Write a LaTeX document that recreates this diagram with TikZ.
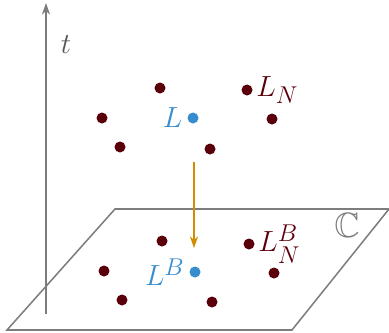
\documentclass[tikz,border=0pt]{standalone}
\usepackage{amsmath, amssymb}
\usetikzlibrary{arrows.meta}
\definecolor{darkred}{RGB}{90,0,10}
\definecolor{myblue}{RGB}{55,140,205}
\definecolor{myorange}{RGB}{210,140,0}
\definecolor{axisgray}{RGB}{125,125,125}
\definecolor{textgray}{RGB}{85,85,85}

\begin{document}
\begin{tikzpicture}[x=0.03cm, y=-0.03cm,
    pt/.style={circle, fill=darkred, inner sep=0pt, minimum size=11*0.03cm},
    ptL/.style={circle, fill=myblue, inner sep=0pt, minimum size=11*0.03cm},
    lbl/.style={font=\fontsize{30}{34}\selectfont, inner sep=1pt}]
  \useasboundingbox (0,0) rectangle (389,332);
  % time axis
  \draw[-{Stealth[length=10pt, width=7pt]}, axisgray, line width=1.3pt] (46,314) -- (46,3);
  \node[lbl, text=textgray] (tlab) at (66,45) {$t$};
  % plane C
  \draw[axisgray, line width=1.3pt] (7,330) -- (292,330) -- (389,209) -- (115,209) -- cycle;
  \node[lbl, text=axisgray] (Clab) at (347,225) {$\mathbb{C}$};
  % upper points
  \node[pt] (a1) at (160,88) {};
  \node[pt] (a2) at (102,118) {};
  \node[pt] (a3) at (120,147) {};
  \node[pt] (a4) at (247,90) {};
  \node[pt] (a5) at (272,119) {};
  \node[pt] (a6) at (210,149) {};
  \node[ptL] (L) at (193,118) {};
  \node[lbl, text=myblue, left=3pt] at (L.west) {$L$};
  \node[lbl, text=darkred, right=2pt] at (a4.east) {$L_N$};
  % lower points
  \node[pt] (b1) at (162,241) {};
  \node[pt] (b2) at (104,271) {};
  \node[pt] (b3) at (122,300) {};
  \node[pt] (b4) at (249,244) {};
  \node[pt] (b5) at (274,273) {};
  \node[pt] (b6) at (212,302) {};
  \node[ptL] (LB) at (195,272) {};
  \node[lbl, text=myblue, left=3pt] at (LB.west) {$L^B$};
  \node[lbl, text=darkred, right=2pt] at (b4.east) {$L_N^B$};
  % projection
  \coordinate (pstart) at (194,162);
  \coordinate (pend) at (194,248);
  \draw[-{Stealth[length=10pt, width=7pt]}, myorange, line width=1.3pt] (pstart) -- (pend);
\end{tikzpicture}
\end{document}
